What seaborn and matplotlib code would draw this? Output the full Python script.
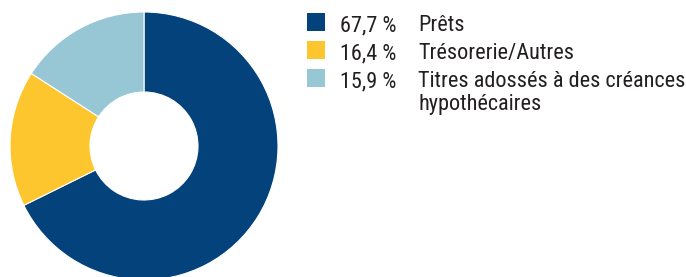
import matplotlib
matplotlib.use("Agg")
import matplotlib.pyplot as plt
from matplotlib.patches import Rectangle
import seaborn as sns

categories = ["Prêts", "Trésorerie/Autres", "Titres adossés à des créances\nhypothécaires"]
values = [67.7, 16.4, 15.9]
value_labels = ["67,7 %", "16,4 %", "15,9 %"]
colors = ["#03427A", "#FEC62E", "#97C6D5"]

sns.set_theme(style="white")
plt.rcParams["font.family"] = ["Roboto Condensed", "DejaVu Sans"]

W, H = 686, 277
fig = plt.figure(figsize=(W / 100, H / 100), dpi=100)
fig.patch.set_facecolor("white")

cx, cy, r = 144, 146, 134
ax = fig.add_axes([(cx - r) / W, (H - cy - r) / H, 2 * r / W, 2 * r / H])
ax.pie(values, colors=colors, startangle=90, counterclock=False,
       wedgeprops=dict(width=1 - 54 / 134, edgecolor="white", linewidth=0.8))
ax.set_aspect("equal")
ax.set_xlim(-1, 1)
ax.set_ylim(-1, 1)
ax.axis("off")

txt_color = "#231F20"
row_base = [31, 59, 87]
for i, (vl, cat, col) in enumerate(zip(value_labels, categories, colors)):
    b = row_base[i]
    fig.patches.append(Rectangle((307 / W, (H - b) / H), 18 / W, 18 / H,
                                 transform=fig.transFigure, facecolor=col,
                                 edgecolor="none", figure=fig))
    fig.text(340 / W, (H - b) / H, vl, fontsize=16, color=txt_color,
             va="baseline", ha="left")
    for j, ln in enumerate(cat.split("\n")):
        fig.text(418 / W, (H - b - 23 * j) / H, ln, fontsize=16, color=txt_color,
                 va="baseline", ha="left")

fig.savefig("out.png", dpi=100, facecolor="white")
